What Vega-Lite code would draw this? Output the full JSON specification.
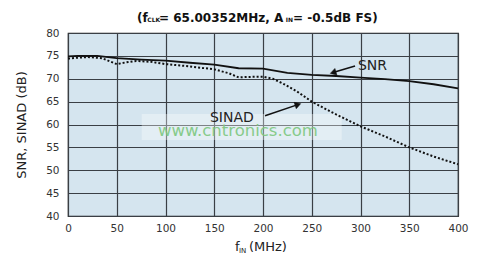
{
  "$schema": "https://vega.github.io/schema/vega-lite/v6.json",
  "width": 390,
  "height": 183,
  "autosize": {"type": "none"},
  "padding": {"left": 68, "top": 33, "right": 26, "bottom": 43},
  "background": "white",
  "config": {
    "view": {"fill": "#d5e5ef", "stroke": "#222", "strokeWidth": 1.2},
    "font": "DejaVu Sans"
  },
  "encoding": {
    "x": {"field": "f", "type": "quantitative", "scale": {"domain": [0, 400], "nice": false},
      "axis": {"values": [0, 50, 100, 150, 200, 250, 300, 350, 400], "grid": true, "gridColor": "#3a3f45", "gridWidth": 1.2, "gridOpacity": 1,
        "domain": false, "ticks": false, "labelFont": "DejaVu Sans", "labelFontSize": 10.5, "labelColor": "#333", "labelPadding": 7,
        "labelFlush": false, "labelOverlap": false, "title": null}},
    "y": {"field": "v", "type": "quantitative", "scale": {"domain": [40, 80], "nice": false, "zero": false},
      "axis": {"values": [40, 45, 50, 55, 60, 65, 70, 75, 80], "grid": true, "gridColor": "#3a3f45", "gridWidth": 1.2, "gridOpacity": 1,
        "domain": false, "ticks": false, "labelFont": "DejaVu Sans", "labelFontSize": 10.5, "labelColor": "#333", "labelPadding": 9,
        "labelOverlap": false, "labelFlush": false,
        "title": "SNR, SINAD (dB)", "titleFont": "DejaVu Sans", "titleFontSize": 13, "titleFontWeight": "normal", "titleColor": "#222", "titlePadding": 17}}
  },
  "layer": [
    {
      "data": {"values": [{"f": 75.6, "f2": 280.7, "v": 62.3, "v2": 56.6}]},
      "mark": {"type": "rect", "fill": "#ffffff", "opacity": 0.35},
      "encoding": {
        "x2": {"field": "f2"},
        "y2": {"field": "v2"}
      }
    },
    {
      "data": {"values": [
        {"f": 0, "v": 74.9}, {"f": 10, "v": 75.0}, {"f": 30, "v": 75.0},
        {"f": 50, "v": 74.5}, {"f": 75, "v": 74.2}, {"f": 100, "v": 73.95},
        {"f": 125, "v": 73.5}, {"f": 150, "v": 73.1}, {"f": 175, "v": 72.3},
        {"f": 200, "v": 72.2}, {"f": 225, "v": 71.3}, {"f": 250, "v": 70.85},
        {"f": 275, "v": 70.6}, {"f": 300, "v": 70.25}, {"f": 325, "v": 69.9},
        {"f": 350, "v": 69.5}, {"f": 375, "v": 68.8}, {"f": 400, "v": 67.9}
      ]},
      "mark": {"type": "line", "color": "#111", "strokeWidth": 1.8},
      "encoding": {}
    },
    {
      "data": {"values": [
        {"f": 0, "v": 74.4}, {"f": 10, "v": 74.6}, {"f": 20, "v": 74.75}, {"f": 35, "v": 74.5}, {"f": 50, "v": 73.2},
        {"f": 60, "v": 73.6}, {"f": 70, "v": 73.9}, {"f": 85, "v": 73.7}, {"f": 100, "v": 73.2}, {"f": 125, "v": 72.7},
        {"f": 150, "v": 72.05}, {"f": 165, "v": 71.2}, {"f": 175, "v": 70.3}, {"f": 185, "v": 70.4}, {"f": 200, "v": 70.45},
        {"f": 210, "v": 70.0}, {"f": 220, "v": 69.0}, {"f": 235, "v": 67.2}, {"f": 250, "v": 65.0}, {"f": 265, "v": 63.3},
        {"f": 275, "v": 62.2}, {"f": 300, "v": 59.6}, {"f": 325, "v": 57.4}, {"f": 350, "v": 55.0}, {"f": 375, "v": 53.0},
        {"f": 400, "v": 51.3}
      ]},
      "mark": {"type": "line", "color": "#111", "strokeWidth": 2, "strokeDash": [2, 2]},
      "encoding": {}
    },
    {
      "data": {"values": [
        {"f": 294.4, "v": 72.79, "f2": 271.0, "v2": 71.3},
        {"f": 202.1, "v": 61.92, "f2": 236.5, "v2": 64.4}
      ]},
      "mark": {"type": "rule", "color": "#111", "strokeWidth": 1.5},
      "encoding": {
        "x2": {"field": "f2"},
        "y2": {"field": "v2"}
      }
    },
    {
      "data": {"values": [{"f": 271.9, "v": 71.36}]},
      "mark": {"type": "point", "shape": "triangle-up", "angle": 253, "size": 45, "filled": true, "fill": "#111", "stroke": "#111", "strokeWidth": 0.5, "opacity": 1},
      "encoding": {}
    },
    {
      "data": {"values": [{"f": 235.8, "v": 64.35}]},
      "mark": {"type": "point", "shape": "triangle-up", "angle": 71, "size": 45, "filled": true, "fill": "#111", "stroke": "#111", "strokeWidth": 0.5, "opacity": 1},
      "encoding": {}
    },
    {
      "data": {"values": [{"t": "SNR", "f": 297.4, "v": 71.91}, {"t": "SINAD", "f": 145.6, "v": 60.61}]},
      "mark": {"type": "text", "align": "left", "baseline": "alphabetic", "font": "DejaVu Sans", "fontSize": 14, "color": "#222"},
      "encoding": {"text": {"field": "t"}}
    },
    {
      "data": {"values": [{"t": "www.cntronics.com", "f": 92.3, "v": 57.4}]},
      "mark": {"type": "text", "align": "left", "baseline": "alphabetic", "font": "DejaVu Sans", "fontSize": 16.5, "color": "#7dc87f", "opacity": 0.9},
      "encoding": {"text": {"field": "t"}}
    },
    {
      "data": {"values": [
        {"t": "(f", "f": 70.77, "v": 82.47},
        {"t": "= 65.00352MHz, A", "f": 93.33, "v": 82.47},
        {"t": "= -0.5dB FS)", "f": 230.77, "v": 82.47}
      ]},
      "mark": {"type": "text", "align": "left", "baseline": "alphabetic", "font": "DejaVu Sans", "fontWeight": "bold", "fontSize": 12, "color": "#111"},
      "encoding": {"text": {"field": "t"}}
    },
    {
      "data": {"values": [
        {"t": "CLK", "f": 81.3, "v": 82.4},
        {"t": "IN", "f": 223.4, "v": 82.4}
      ]},
      "mark": {"type": "text", "align": "left", "baseline": "alphabetic", "font": "DejaVu Sans", "fontWeight": "bold", "fontSize": 6, "color": "#111"},
      "encoding": {"text": {"field": "t"}}
    },
    {
      "data": {"values": [
        {"t": "f", "f": 171.3, "v": 32.35},
        {"t": "(MHz)", "f": 185.6, "v": 32.35}
      ]},
      "mark": {"type": "text", "align": "left", "baseline": "alphabetic", "font": "DejaVu Sans", "fontSize": 13, "color": "#222"},
      "encoding": {"text": {"field": "t"}}
    },
    {
      "data": {"values": [{"t": "IN", "f": 175.4, "v": 31.9}]},
      "mark": {"type": "text", "align": "left", "baseline": "alphabetic", "font": "DejaVu Sans", "fontSize": 7, "color": "#222"},
      "encoding": {"text": {"field": "t"}}
    }
  ]
}
